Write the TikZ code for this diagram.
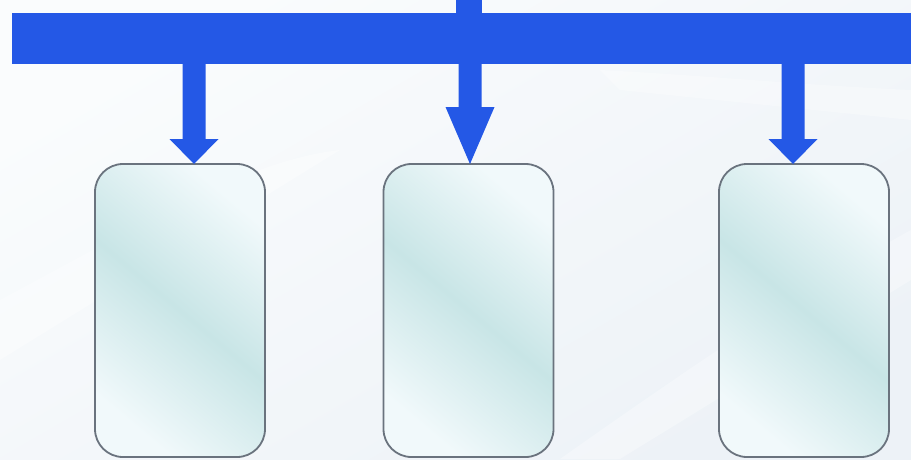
\documentclass[tikz,border=0pt]{standalone}
\usetikzlibrary{calc}
\definecolor{barblue}{HTML}{2458E6}
\definecolor{boxgray}{HTML}{6A737E}
\definecolor{bgbase}{HTML}{EDF2F7}
\definecolor{bglight}{HTML}{FAFCFD}
\definecolor{boxlight}{HTML}{F1F9FB}
\definecolor{boxteal}{HTML}{C8E5E6}
\begin{document}
\begin{tikzpicture}[x=1pt,y=-1pt,
  boxstyle/.style={draw=boxgray, line width=1.8pt, rounded corners=28pt,
    minimum width=170pt, minimum height=293pt, inner sep=0pt, outer sep=0pt,
    shading=axis, top color=boxlight, bottom color=boxlight, middle color=boxteal,
    shading angle=-40},
  barstyle/.style={fill=barblue, inner sep=0pt, outer sep=0pt},
  arrowfill/.style={fill=barblue}]
\useasboundingbox (0,0) rectangle (911,459);
% background
\shade[shading=axis, top color=bglight, bottom color=bgbase, shading angle=30] (0,0) rectangle (911,459);
\fill[white, opacity=0.35] (0,300) .. controls (150,220) and (250,160) .. (340,150) -- (0,360) -- cycle;
\fill[white, opacity=0.3] (560,459) .. controls (700,360) and (820,280) .. (911,230) -- (911,280) -- (620,459) -- cycle;
\fill[white, opacity=0.3] (600,70) .. controls (700,75) and (800,85) .. (911,90) -- (911,120) -- (620,90) -- cycle;
% bus bar
\node[barstyle, minimum width=905pt, minimum height=51pt] (bar) at (464.5,38.5) {};
\node[barstyle, minimum width=26pt, minimum height=16pt, anchor=south] (stem) at (469,14) {};
% boxes
\node[boxstyle] (b1) at (180,310.5) {};
\node[boxstyle] (b2) at (468.5,310.5) {};
\node[boxstyle] (b3) at (804,310.5) {};
% arrow tips on the box tops
\coordinate (t1) at ($(b1.north)+(14,0)$);
\coordinate (t2) at ($(b2.north)+(1.5,0)$);
\coordinate (t3) at ($(b3.north)+(-11,0)$);
\foreach \t/\hl in {t1/25, t2/57, t3/25} {
  \fill[arrowfill] ($(\t |- bar.south)+(-11.5,-2)$) -- ($(\t)+(-11.5,-\hl)$)
    -- ($(\t)+(-24.5,-\hl)$) -- (\t) -- ($(\t)+(24.5,-\hl)$)
    -- ($(\t)+(11.5,-\hl)$) -- ($(\t |- bar.south)+(11.5,-2)$) -- cycle;
}
\end{tikzpicture}
\end{document}
